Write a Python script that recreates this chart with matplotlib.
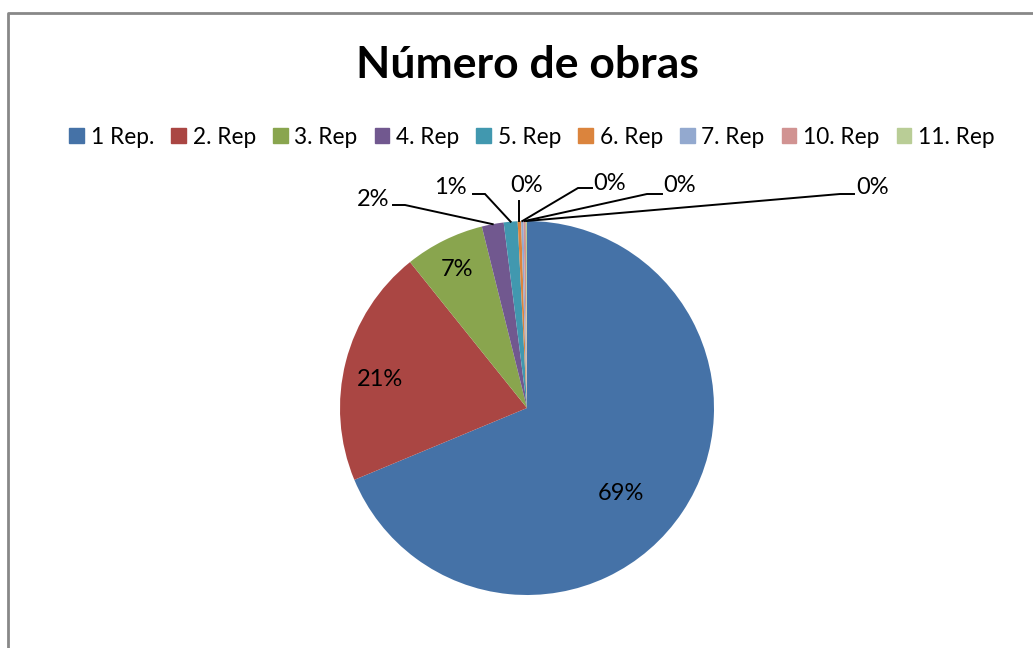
import matplotlib.pyplot as plt
import numpy as np

# dados do gráfico
categorias = ['1 Rep.', '2. Rep', '3. Rep', '4. Rep', '5. Rep', '6. Rep', '7. Rep', '10. Rep', '11. Rep']
valores = [690, 206, 69, 19, 12, 3, 2, 2, 1]
rotulos = ['69%', '21%', '7%', '2%', '1%', '0%', '0%', '0%', '0%']
cores = ['#4572A7', '#AA4643', '#89A54E', '#71588F', '#4198AF', '#DB843D', '#93A9CF', '#D19392', '#B9CD96']

# posição dos rótulos (pixels, y para cima)
pos_rotulos = [(621, 155), (380, 268), (457, 378), (373, 448), (450, 461),
               (527, 462), (610, 465), (680, 462), (873, 460)]
# linhas de chamada: ponta junto ao texto e cotovelo
ponta = [None, None, None, (393, 443), (473, 454), (519, 447), (592, 460), (662, 454), (854, 454)]
cotovelo = [None, None, None, (405, 443), (485, 454), (519, 447), (578, 460), (647, 454), (840, 454)]

plt.rcParams['font.family'] = ['Lato', 'DejaVu Sans']

fig = plt.figure(figsize=(10.33, 6.48), dpi=100)
ax = fig.add_axes([0, 0, 1, 1])

cx, cy, r = 527, 240, 187
wedges, _ = ax.pie(valores, colors=cores, startangle=90, counterclock=False,
                   center=(cx, cy), radius=r, wedgeprops=dict(linewidth=0))
ax.set_xlim(0, 1033)
ax.set_ylim(0, 648)
ax.set_aspect('equal')
ax.axis('off')

for i, w in enumerate(wedges):
    tx, ty = pos_rotulos[i]
    if ponta[i] is not None:
        ang = np.deg2rad((w.theta1 + w.theta2) / 2)
        px, py = cx + r * np.cos(ang), cy + r * np.sin(ang)
        if i == 5:
            px = cotovelo[i][0]
        xs = [ponta[i][0], cotovelo[i][0], px]
        ys = [ponta[i][1], cotovelo[i][1], py]
        ax.plot(xs, ys, color='black', lw=1.4, solid_joinstyle='miter')
    ax.text(tx, ty, rotulos[i], fontsize=17, ha='center', va='center')

ax.text(527, 583, 'Número de obras', fontsize=32, fontweight='bold', ha='center', va='center')

# legenda
hand = [plt.Rectangle((0, 0), 1, 1, color=c) for c in cores]
fig.legend(hand, categorias, loc='center', bbox_to_anchor=(532 / 1033, 1 - 137 / 648), ncol=9,
           frameon=False, fontsize=16.3, handlelength=0.65, handleheight=0.65,
           handletextpad=0.3, columnspacing=0.75)

# moldura
ax.plot([8, 8, 1040], [-10, 635, 635], color='#888888', lw=2, clip_on=False)

fig.savefig('out.png', dpi=100)
